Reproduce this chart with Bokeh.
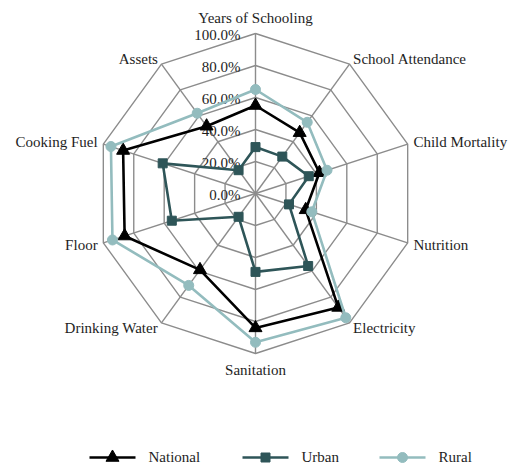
import math
from bokeh.plotting import figure
from bokeh.models import Range1d
from bokeh.core.properties import value
from bokeh.embed import file_html
from bokeh.resources import INLINE

# ---- data ----
categories = ["Years of Schooling", "School Attendance", "Child Mortality", "Nutrition",
              "Electricity", "Sanitation", "Drinking Water", "Floor", "Cooking Fuel", "Assets"]
national = [55, 47, 42, 33, 88, 84, 59, 86, 87, 52]
urban = [29, 28.5, 35, 22, 56, 49, 18, 55, 61, 18]
rural = [65, 55, 47, 37, 96, 93, 71, 94, 95, 62]
ticks = [0, 20, 40, 60, 80, 100]
tick_labels = ["0.0%", "20.0%", "40.0%", "60.0%", "80.0%", "100.0%"]
series_names = ["National", "Urban", "Rural"]

# ---- styling ----
FONT_NAME = "Liberation Serif"
FS = "15px"
TXT = "#1e1e1e"
GRID = "#8c8c8c"
colors = {"National": "#000000", "Urban": "#2e5558", "Rural": "#93bcbe"}
R = 160.0  # radius of the 100% ring (data units = px)
N = len(categories)
angles = [2 * math.pi * i / N for i in range(N)]

p = figure(width=510, height=464, output_backend="svg", toolbar_location=None,
           x_range=Range1d(-255, 255), y_range=Range1d(-271, 193),
           x_axis_type=None, y_axis_type=None, min_border=0)
p.outline_line_color = None
p.grid.visible = False
p.background_fill_color = "white"


def pt(v, a):
    r = v / 100.0 * R
    return r * math.sin(a), r * math.cos(a)


def label(xs, ys, texts, align):
    p.text(x=xs, y=ys, text=texts, text_font=value(FONT_NAME), text_font_size=FS,
           text_color=TXT, text_align=align, text_baseline="middle")

# grid rings
for t in ticks[1:]:
    xs = [pt(t, a)[0] for a in angles] + [pt(t, angles[0])[0]]
    ys = [pt(t, a)[1] for a in angles] + [pt(t, angles[0])[1]]
    p.line(xs, ys, line_color=GRID, line_width=1.4)
# spokes
for a in angles:
    x1, y1 = pt(100, a)
    p.line([0, x1], [0, y1], line_color=GRID, line_width=1.4)

# tick labels
label([-15] * len(ticks), [t / 100.0 * R - 1 for t in ticks], tick_labels, "right")

# category labels
groups = {"left": ([], [], []), "right": ([], [], []), "center": ([], [], [])}
for c, a in zip(categories, angles):
    s = math.sin(a)
    if abs(s) < 0.1:
        off = 16
        key = "center"
    else:
        off = 6
        key = "right" if s > 0 else "left"
    x, y = pt(100 + off / R * 100, a)
    g = groups[key]
    g[0].append(x); g[1].append(y); g[2].append(c)
for key, align in (("left", "right"), ("right", "left"), ("center", "center")):
    xs, ys, ts = groups[key]
    label(xs, ys, ts, align)

# series
markers = {"National": ("triangle", 13), "Urban": ("square", 9), "Rural": ("circle", 10)}
for name, vals in zip(series_names, [national, urban, rural]):
    xs = [pt(v, a)[0] for v, a in zip(vals, angles)]
    ys = [pt(v, a)[1] for v, a in zip(vals, angles)]
    col = colors[name]
    p.line(xs + xs[:1], ys + ys[:1], line_color=col, line_width=2.6)
    m, sz = markers[name]
    p.scatter(xs, ys, marker=m, size=sz, fill_color=col, line_color=col)

# legend (manual)
leg_y = -263
leg_x = [-166, -13, 124]  # start of legend line, relative to center
for name, lx in zip(series_names, leg_x):
    col = colors[name]
    p.line([lx, lx + 46], [leg_y - 1, leg_y - 1], line_color=col, line_width=2.6)
    m, sz = markers[name]
    p.scatter([lx + 23], [leg_y - 1], marker=m, size=sz, fill_color=col, line_color=col)
    label([lx + 59], [leg_y], [name], "left")

open("out.html", "w").write(file_html(p, INLINE))
